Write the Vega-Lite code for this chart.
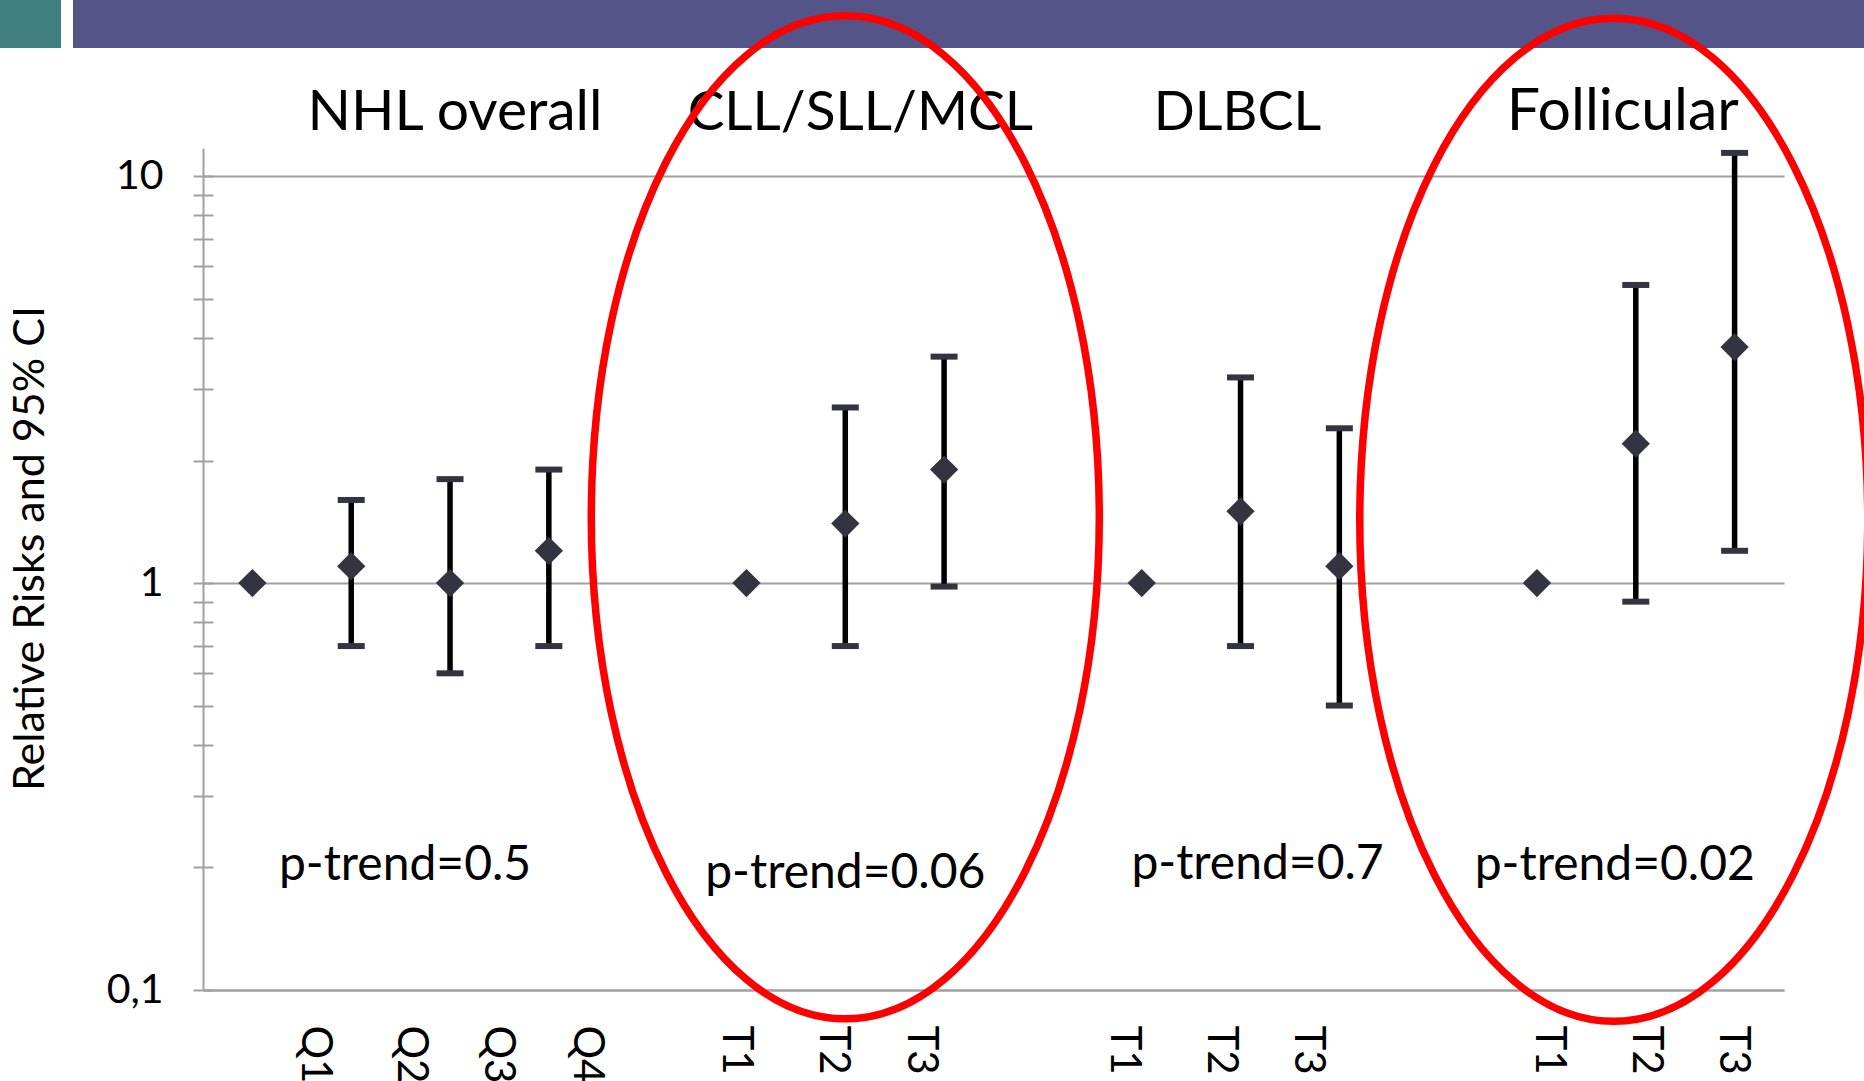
{
  "$schema": "https://vega.github.io/schema/vega-lite/v6.json",
  "padding": 0,
  "background": "white",
  "config": {"font": "Lato", "view": {"stroke": null}},
  "bounds": "flush",
  "spacing": 148,
  "datasets": {
    "points": [
      {"cat": "NHL Q1", "rr": 1},
      {"cat": "NHL Q2", "rr": 1.1, "lo": 0.7, "hi": 1.6},
      {"cat": "NHL Q3", "rr": 1.0, "lo": 0.6, "hi": 1.8},
      {"cat": "NHL Q4", "rr": 1.2, "lo": 0.7, "hi": 1.9},
      {"cat": "CLL T1", "rr": 1},
      {"cat": "CLL T2", "rr": 1.4, "lo": 0.7, "hi": 2.7},
      {"cat": "CLL T3", "rr": 1.9, "lo": 0.98, "hi": 3.6},
      {"cat": "DLBCL T1", "rr": 1},
      {"cat": "DLBCL T2", "rr": 1.5, "lo": 0.7, "hi": 3.2},
      {"cat": "DLBCL T3", "rr": 1.1, "lo": 0.5, "hi": 2.4},
      {"cat": "Fol T1", "rr": 1},
      {"cat": "Fol T2", "rr": 2.2, "lo": 0.9, "hi": 5.4},
      {"cat": "Fol T3", "rr": 3.8, "lo": 1.2, "hi": 11.4}
    ]
  },
  "vconcat": [
    {
      "bounds": "flush",
      "spacing": 12,
      "hconcat": [
        {"width": 61, "height": 48, "view": {"fill": "#417E80", "stroke": null}, "data": {"values": [{}]}, "mark": {"type": "text", "text": ""}},
        {"width": 1791, "height": 48, "view": {"fill": "#545488", "stroke": null}, "data": {"values": [{}]}, "mark": {"type": "text", "text": ""}}
      ]
    },
    {
      "bounds": "flush",
      "spacing": 12,
      "hconcat": [
        {"width": 191, "height": 842, "data": {"values": [{}]}, "mark": {"type": "text", "text": ""}},
        {
          "width": 1581,
          "height": 842,
          "resolve": {"axis": {"y": "independent"}},
          "encoding": {
            "x": {
              "field": "cat", "type": "nominal", "sort": null,
              "scale": {"domain": ["NHL Q1","NHL Q2","NHL Q3","NHL Q4","gap1","CLL T1","CLL T2","CLL T3","gap2","DLBCL T1","DLBCL T2","DLBCL T3","gap3","Fol T1","Fol T2","Fol T3"], "paddingInner": 0, "paddingOuter": 0},
              "axis": {
                "title": null, "labelAngle": 90, "labelAlign": "left", "labelBaseline": "middle",
                "labelFont": "Lato", "labelFontSize": 42, "labelColor": "#000000", "labelPadding": 35,
                "labelExpr": "indexof(datum.label, 'gap') == 0 ? '' : split(datum.label, ' ')[1]",
                "labelOverlap": false, "ticks": false, "tickSize": 0, "grid": false,
                "domainColor": "#A0A0A0", "domainWidth": 2,
                "labelOffset": {"expr": "datum.value == 'NHL Q1' ? 63 : datum.value == 'NHL Q2' ? 60 : datum.value == 'NHL Q3' ? 48 : datum.value == 'NHL Q4' ? 38 : datum.value == 'CLL T1' ? -10 : datum.value == 'CLL T2' ? -12 : datum.value == 'CLL T3' ? -23 : datum.value == 'DLBCL T1' ? -18 : datum.value == 'DLBCL T2' ? -20 : datum.value == 'DLBCL T3' ? -31 : datum.value == 'Fol T1' ? 12 : datum.value == 'Fol T2' ? 10 : -2"}
              }
            }
          },
          "layer": [
            {
              "data": {"name": "points"},
              "mark": {"type": "rule", "strokeWidth": 5.5, "color": "#000000"},
              "encoding": {
                "y": {
                  "field": "lo", "type": "quantitative",
                  "scale": {"type": "log", "domain": [0.1, 11.72], "nice": false},
                  "axis": {
                    "orient": "left",
                    "title": "Relative Risks and 95% CI",
                    "titleFont": "Lato", "titleFontSize": 43, "titleFontWeight": "normal", "titleColor": "#000000",
                    "titleAngle": -90, "titleX": -194, "titleY": 400, "titleAlign": "center", "titleBaseline": "top",
                    "values": [0.1,0.2,0.3,0.4,0.5,0.6,0.7,0.8,0.9,1,2,3,4,5,6,7,8,9,10],
                    "labelExpr": "datum.value == 10 ? '10' : datum.value == 1 ? '1' : datum.value == 0.1 ? '0,1' : ''",
                    "labelFont": "Lato", "labelFontSize": 41, "labelColor": "#000000", "labelPadding": 30,
                    "labelOverlap": false,
                    "tickSize": 10, "tickColor": "#A0A0A0", "tickWidth": 2,
                    "domainColor": "#A0A0A0", "domainWidth": 2,
                    "grid": false
                  }
                },
                "y2": {"field": "hi"}
              }
            },
            {
              "data": {"name": "points"},
              "mark": {"type": "tick", "thickness": 6, "size": 27, "color": "#33343F", "opacity": 1},
              "encoding": {"y": {"field": "lo", "type": "quantitative", "scale": {"type": "log", "domain": [0.1, 11.72], "nice": false}, "axis": null}}
            },
            {
              "data": {"name": "points"},
              "mark": {"type": "tick", "thickness": 6, "size": 27, "color": "#33343F", "opacity": 1},
              "encoding": {"y": {"field": "hi", "type": "quantitative", "scale": {"type": "log", "domain": [0.1, 11.72], "nice": false},
                "axis": {"orient": "left", "values": [0.1,0.2,0.3,0.4,0.5,0.6,0.7,0.8,0.9,1,2,3,4,5,6,7,8,9,10], "tickSize": -10, "tickColor": "#A0A0A0", "tickWidth": 2, "labels": false, "domain": false, "grid": false, "title": null}}}
            },
            {
              "data": {"name": "points"},
              "mark": {"type": "point", "shape": "diamond", "filled": true, "size": 800, "color": "#33343F", "opacity": 1},
              "encoding": {"y": {"field": "rr", "type": "quantitative", "scale": {"type": "log", "domain": [0.1, 11.72], "nice": false},
                "axis": {"orient": "right", "values": [0.1, 1, 10], "grid": true, "gridColor": "#A0A0A0", "gridWidth": 2, "labels": false, "ticks": false, "domain": false, "title": null}}}
            },
            {
              "data": {"values": [{"cat": "NHL Q3", "label": "NHL overall", "y": 13}]},
              "mark": {"type": "text", "fontSize": 57, "align": "center", "baseline": "alphabetic", "dx": 5, "color": "#000000"},
              "encoding": {"text": {"field": "label"}, "y": {"field": "y", "type": "quantitative", "scale": {"type": "log", "domain": [0.1, 11.72], "nice": false}, "axis": null}}
            },
            {
              "data": {"values": [{"cat": "CLL T2", "label": "CLL/SLL/MCL", "y": 13}]},
              "mark": {"type": "text", "fontSize": 55, "align": "center", "baseline": "alphabetic", "dx": 15, "color": "#000000"},
              "encoding": {"text": {"field": "label"}, "y": {"field": "y", "type": "quantitative", "scale": {"type": "log", "domain": [0.1, 11.72], "nice": false}, "axis": null}}
            },
            {
              "data": {"values": [{"cat": "DLBCL T2", "label": "DLBCL", "y": 13}]},
              "mark": {"type": "text", "fontSize": 54, "align": "center", "baseline": "alphabetic", "dx": -3, "color": "#000000"},
              "encoding": {"text": {"field": "label"}, "y": {"field": "y", "type": "quantitative", "scale": {"type": "log", "domain": [0.1, 11.72], "nice": false}, "axis": null}}
            },
            {
              "data": {"values": [{"cat": "Fol T2", "label": "Follicular", "y": 13}]},
              "mark": {"type": "text", "fontSize": 59, "align": "center", "baseline": "alphabetic", "dx": -13, "color": "#000000"},
              "encoding": {"text": {"field": "label"}, "y": {"field": "y", "type": "quantitative", "scale": {"type": "log", "domain": [0.1, 11.72], "nice": false}, "axis": null}}
            },
            {
              "data": {"values": [{"cat": "NHL Q3", "label": "p-trend=0.5", "y": 0.186}]},
              "mark": {"type": "text", "fontSize": 48, "align": "center", "baseline": "alphabetic", "dx": -45, "color": "#000000"},
              "encoding": {"text": {"field": "label"}, "y": {"field": "y", "type": "quantitative", "scale": {"type": "log", "domain": [0.1, 11.72], "nice": false}, "axis": null}}
            },
            {
              "data": {"values": [{"cat": "CLL T2", "label": "p-trend=0.06", "y": 0.178}]},
              "mark": {"type": "text", "fontSize": 48, "align": "center", "baseline": "alphabetic", "dx": 0, "color": "#000000"},
              "encoding": {"text": {"field": "label"}, "y": {"field": "y", "type": "quantitative", "scale": {"type": "log", "domain": [0.1, 11.72], "nice": false}, "axis": null}}
            },
            {
              "data": {"values": [{"cat": "DLBCL T2", "label": "p-trend=0.7", "y": 0.187}]},
              "mark": {"type": "text", "fontSize": 48, "align": "center", "baseline": "alphabetic", "dx": 17, "color": "#000000"},
              "encoding": {"text": {"field": "label"}, "y": {"field": "y", "type": "quantitative", "scale": {"type": "log", "domain": [0.1, 11.72], "nice": false}, "axis": null}}
            },
            {
              "data": {"values": [{"cat": "Fol T2", "label": "p-trend=0.02", "y": 0.186}]},
              "mark": {"type": "text", "fontSize": 48, "align": "center", "baseline": "alphabetic", "dx": -21, "color": "#000000"},
              "encoding": {"text": {"field": "label"}, "y": {"field": "y", "type": "quantitative", "scale": {"type": "log", "domain": [0.1, 11.72], "nice": false}, "axis": null}}
            },
            {
              "data": {"values": [{"cat": "CLL T2", "y": 1.45}]},
              "mark": {"type": "point", "shape": "M0,-1C0.2797,-1,0.5065,-0.5523,0.5065,0C0.5065,0.5523,0.2797,1,0,1C-0.2797,1,-0.5065,0.5523,-0.5065,0C-0.5065,-0.5523,-0.2797,-1,0,-1Z", "size": 1006009, "filled": false, "stroke": "#FF0000", "strokeWidth": 7.5, "opacity": 1},
              "encoding": {"y": {"field": "y", "type": "quantitative", "scale": {"type": "log", "domain": [0.1, 11.72], "nice": false}, "axis": null}}
            },
            {
              "data": {"values": [{"cat": "Fol T2", "y": 1.43}]},
              "mark": {"type": "point", "shape": "M-0.0439,-1C0.2358,-1,0.4626,-0.5523,0.4626,0C0.4626,0.5523,0.2358,1,-0.0439,1C-0.3236,1,-0.5504,0.5523,-0.5504,0C-0.5504,-0.5523,-0.3236,-1,-0.0439,-1Z", "size": 1006009, "filled": false, "stroke": "#FF0000", "strokeWidth": 7.5, "opacity": 1},
              "encoding": {"y": {"field": "y", "type": "quantitative", "scale": {"type": "log", "domain": [0.1, 11.72], "nice": false}, "axis": null}}
            }
          ]
        }
      ]
    }
  ]
}
